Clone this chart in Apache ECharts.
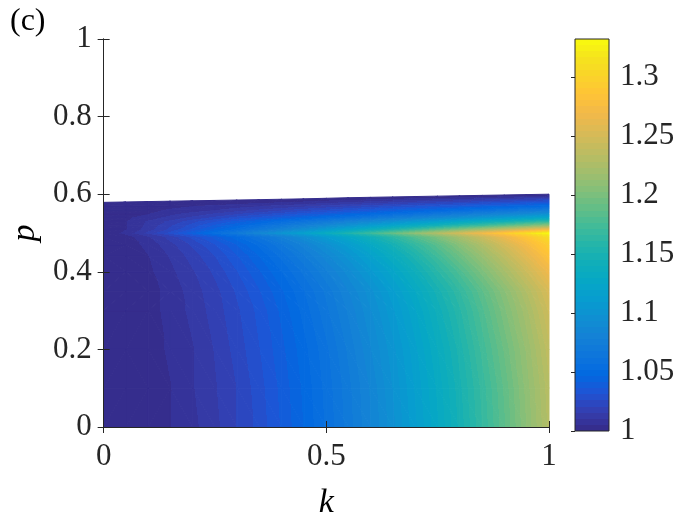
<!DOCTYPE html>
<html>
<head>
<meta charset="utf-8">
<script src="https://cdn.jsdelivr.net/npm/echarts@6/dist/echarts.min.js"></script>
<style>
html, body { margin: 0; background: #fff; }
#chart { width: 700px; height: 525px; }
</style>
</head>
<body>
<div id="chart"></div>
<script>
// grid nodes along k (columns)
const kGrid = [0, 0.05, 0.1, 0.15, 0.2, 0.25, 0.3, 0.35, 0.4, 0.45, 0.5,
  0.55, 0.6, 0.65, 0.7, 0.75, 0.8, 0.85, 0.9, 0.95, 1]
// p of each row of nodes, the last one is the upper edge of the filled region
const pRows = [0, 0.1, 0.2, 0.3, 0.35, 0.4, 0.44, 0.47, 0.49, 0.5,
  0.51, 0.52, 0.53, 0.54, 0.55, 0.56, 0.57]
const pEdge = [0.579, 0.580, 0.581, 0.582, 0.583, 0.584, 0.585, 0.586, 0.587, 0.588, 0.5895,
  0.591, 0.592, 0.593, 0.594, 0.595, 0.596, 0.597, 0.598, 0.599, 0.600]

// values, one array per row (k = 0 ... 1)
const vP000 = [1.000, 1.001, 1.002, 1.005, 1.009, 1.014, 1.021, 1.028, 1.037, 1.047, 1.058, 1.070, 1.083, 1.097, 1.113, 1.129, 1.147, 1.166, 1.186, 1.208, 1.230]
const vP010 = [1.000, 1.001, 1.002, 1.005, 1.010, 1.015, 1.021, 1.029, 1.038, 1.048, 1.059, 1.071, 1.084, 1.099, 1.115, 1.131, 1.149, 1.168, 1.188, 1.210, 1.232]
const vP020 = [1.000, 1.001, 1.003, 1.006, 1.010, 1.016, 1.023, 1.031, 1.040, 1.050, 1.061, 1.074, 1.088, 1.102, 1.118, 1.135, 1.153, 1.173, 1.193, 1.214, 1.237]
const vP030 = [1.000, 1.001, 1.003, 1.007, 1.012, 1.018, 1.025, 1.033, 1.043, 1.054, 1.066, 1.079, 1.093, 1.108, 1.124, 1.142, 1.160, 1.180, 1.201, 1.222, 1.245]
const vP035 = [1.000, 1.001, 1.003, 1.007, 1.013, 1.019, 1.027, 1.036, 1.046, 1.057, 1.069, 1.083, 1.097, 1.113, 1.130, 1.148, 1.166, 1.186, 1.207, 1.229, 1.252]
const vP040 = [1.000, 1.001, 1.004, 1.009, 1.015, 1.022, 1.031, 1.041, 1.052, 1.064, 1.077, 1.091, 1.107, 1.123, 1.141, 1.160, 1.179, 1.200, 1.222, 1.244, 1.268]
const vP044 = [1.000, 1.002, 1.005, 1.011, 1.018, 1.026, 1.036, 1.047, 1.059, 1.072, 1.086, 1.101, 1.118, 1.135, 1.153, 1.173, 1.193, 1.214, 1.236, 1.259, 1.283]
const vP047 = [1.000, 1.002, 1.007, 1.014, 1.022, 1.031, 1.042, 1.054, 1.067, 1.081, 1.096, 1.112, 1.129, 1.147, 1.166, 1.185, 1.206, 1.227, 1.249, 1.272, 1.295]
const vP049 = [1.000, 1.003, 1.010, 1.018, 1.028, 1.039, 1.051, 1.064, 1.078, 1.094, 1.110, 1.126, 1.144, 1.162, 1.182, 1.201, 1.222, 1.243, 1.265, 1.287, 1.310]
const vP050 = [1.000, 1.007, 1.017, 1.028, 1.041, 1.055, 1.069, 1.085, 1.101, 1.117, 1.134, 1.152, 1.170, 1.189, 1.208, 1.228, 1.248, 1.268, 1.289, 1.310, 1.331]
const vP051 = [1.000, 1.005, 1.013, 1.022, 1.032, 1.043, 1.054, 1.067, 1.079, 1.093, 1.107, 1.121, 1.136, 1.152, 1.167, 1.184, 1.200, 1.217, 1.234, 1.252, 1.270]
const vP052 = [1.000, 1.005, 1.012, 1.020, 1.028, 1.037, 1.046, 1.056, 1.066, 1.076, 1.087, 1.098, 1.109, 1.121, 1.133, 1.145, 1.158, 1.170, 1.183, 1.197, 1.210]
const vP053 = [1.000, 1.005, 1.011, 1.017, 1.024, 1.031, 1.038, 1.046, 1.054, 1.062, 1.070, 1.079, 1.088, 1.097, 1.106, 1.115, 1.125, 1.135, 1.145, 1.155, 1.165]
const vP054 = [1.000, 1.004, 1.008, 1.012, 1.017, 1.022, 1.028, 1.033, 1.039, 1.045, 1.052, 1.058, 1.065, 1.072, 1.079, 1.086, 1.094, 1.101, 1.109, 1.117, 1.125]
const vP055 = [1.000, 1.002, 1.005, 1.009, 1.012, 1.016, 1.020, 1.024, 1.028, 1.033, 1.037, 1.043, 1.048, 1.053, 1.058, 1.064, 1.070, 1.076, 1.082, 1.088, 1.095]
const vP056 = [1.000, 1.002, 1.003, 1.006, 1.008, 1.010, 1.013, 1.016, 1.019, 1.023, 1.026, 1.030, 1.034, 1.038, 1.042, 1.046, 1.051, 1.055, 1.060, 1.065, 1.070]
const vP057 = [1.000, 1.001, 1.002, 1.003, 1.005, 1.006, 1.008, 1.010, 1.012, 1.014, 1.017, 1.020, 1.023, 1.026, 1.029, 1.032, 1.035, 1.039, 1.042, 1.046, 1.050]
const vEdge = [1.000, 1.000, 1.000, 1.000, 1.000, 1.000, 1.000, 1.000, 1.000, 1.000, 1.000,
  1.000, 1.000, 1.000, 1.000, 1.000, 1.000, 1.000, 1.000, 1.000, 1.000]

// tick labels
const kTicks = [0, 0.5, 1]
const pTicks = [0, 0.2, 0.4, 0.6, 0.8, 1]
const cbarTicks = [1, 1.05, 1.1, 1.15, 1.2, 1.25, 1.3]
const cbarRange = [1, 1.332]

// parula colormap
const parula = ['#352a87', '#353dad', '#2053d4', '#0268e1', '#0d75dc', '#1481d6', '#108ed2',
  '#079ccf', '#06a7c6', '#0faeb9', '#25b5a9', '#42bb98', '#65be86', '#87bf77', '#a5be6b',
  '#c0bc60', '#d9ba56', '#f1b94a', '#ffc337', '#fad32a', '#f5e41d', '#f9fb0e']
const nLevels = 64
const levelColors = []
for (let n = 0; n < nLevels; n++) {
  levelColors.push(echarts.color.lerp((n + 0.5) / nLevels, parula))
}
const axisColor = '#262626'
const serif = '"Liberation Serif", "Times New Roman", serif'

const vRows = [vP000, vP010, vP020, vP030, vP035, vP040, vP044, vP047, vP049, vP050,
  vP051, vP052, vP053, vP054, vP055, vP056, vP057, vEdge]
const pNodes = pRows.map(p => kGrid.map(() => p)).concat([pEdge])

// split each cell into two triangles along the diagonal that follows the contours
const tris = []
for (let j = 0; j < vRows.length - 1; j++) {
  for (let i = 0; i < kGrid.length - 1; i++) {
    const bl = [kGrid[i], pNodes[j][i], vRows[j][i]]
    const br = [kGrid[i + 1], pNodes[j][i + 1], vRows[j][i + 1]]
    const tl = [kGrid[i], pNodes[j + 1][i], vRows[j + 1][i]]
    const tr = [kGrid[i + 1], pNodes[j + 1][i + 1], vRows[j + 1][i + 1]]
    if (Math.abs(bl[2] - tr[2]) <= Math.abs(br[2] - tl[2])) {
      tris.push(bl.concat(br, tr))
      tris.push(bl.concat(tr, tl))
    } else {
      tris.push(bl.concat(br, tl))
      tris.push(br.concat(tr, tl))
    }
  }
}

function bandOf (v) {
  const n = Math.floor((v - cbarRange[0]) / (cbarRange[1] - cbarRange[0]) * nLevels + 1e-9)
  return Math.min(nLevels - 1, Math.max(0, n))
}

// filled contour look: linear gradient across the triangle with hard steps at each level
function triFill (pts, vs) {
  const lo = Math.min(vs[0], vs[1], vs[2])
  const hi = Math.max(vs[0], vs[1], vs[2])
  const b0 = bandOf(lo)
  const b1 = bandOf(hi)
  if (b0 === b1) return levelColors[b0]
  const d1x = pts[1][0] - pts[0][0]
  const d1y = pts[1][1] - pts[0][1]
  const d2x = pts[2][0] - pts[0][0]
  const d2y = pts[2][1] - pts[0][1]
  const dv1 = vs[1] - vs[0]
  const dv2 = vs[2] - vs[0]
  const det = d1x * d2y - d1y * d2x
  if (Math.abs(det) < 1e-9) return levelColors[b0]
  const gx = (dv1 * d2y - dv2 * d1y) / det
  const gy = (d1x * dv2 - d2x * dv1) / det
  const g2 = gx * gx + gy * gy
  const ax = pts[0][0] + (lo - vs[0]) * gx / g2
  const ay = pts[0][1] + (lo - vs[0]) * gy / g2
  const bx = pts[0][0] + (hi - vs[0]) * gx / g2
  const by = pts[0][1] + (hi - vs[0]) * gy / g2
  const stops = [{ offset: 0, color: levelColors[b0] }]
  for (let b = b0 + 1; b <= b1; b++) {
    const lv = cbarRange[0] + b * (cbarRange[1] - cbarRange[0]) / nLevels
    const o = Math.min(1, Math.max(0, (lv - lo) / (hi - lo)))
    stops.push({ offset: o, color: levelColors[b - 1] }, { offset: o, color: levelColors[b] })
  }
  stops.push({ offset: 1, color: levelColors[b1] })
  return new echarts.graphic.LinearGradient(ax, ay, bx, by, stops, true)
}

function renderTri (params, api) {
  const pts = []
  const vs = []
  for (let n = 0; n < 3; n++) {
    pts.push(api.coord([api.value(n * 3), api.value(n * 3 + 1)]))
    vs.push(api.value(n * 3 + 2))
  }
  const fill = triFill(pts, vs)
  return {
    type: 'polygon',
    shape: { points: pts },
    // the stroke in the same paint hides the hairline seams between triangles
    style: { fill: fill, stroke: fill, lineWidth: 1, lineJoin: 'round' }
  }
}

function renderBar (params, api) {
  const p0 = api.coord([api.value(0), api.value(2)])
  const p1 = api.coord([api.value(1), api.value(3)])
  const stops = []
  for (let n = 0; n < nLevels; n++) {
    stops.push({ offset: n / nLevels, color: levelColors[n] })
    stops.push({ offset: (n + 1) / nLevels, color: levelColors[n] })
  }
  const rect = { x: p0[0], y: p1[1], width: p1[0] - p0[0], height: p0[1] - p1[1] }
  return {
    type: 'group',
    children: [{
      type: 'rect',
      shape: rect,
      style: { fill: new echarts.graphic.LinearGradient(0, 1, 0, 0, stops) }
    }, {
      type: 'rect',
      shape: rect,
      style: { fill: 'none', stroke: axisColor, lineWidth: 1 }
    }]
  }
}

const tickLabel = { color: axisColor, fontFamily: serif, fontSize: 31 }
const line = { show: true, lineStyle: { color: axisColor, width: 1 } }
const tick = { show: true, inside: true, length: 6, lineStyle: { color: axisColor } }

const chart = echarts.init(document.getElementById('chart'))
chart.setOption({
  animation: false,
  backgroundColor: '#fff',
  title: {
    text: '(c)',
    left: 5,
    top: 1,
    textStyle: { fontFamily: serif, fontSize: 32, fontWeight: 'normal', color: '#000' }
  },
  grid: [
    { left: 101, top: 39, width: 448, height: 392 },
    { left: 575, top: 39, width: 34, height: 392 }
  ],
  xAxis: [{
    type: 'value', gridIndex: 0, position: 'bottom', z: 10,
    min: kTicks[0], max: kTicks[kTicks.length - 1], interval: kTicks[1] - kTicks[0],
    name: 'k', nameLocation: 'middle', nameGap: 59,
    nameTextStyle: { fontFamily: serif, fontStyle: 'italic', fontSize: 34, color: '#000' },
    axisLine: line, axisTick: tick, splitLine: { show: false },
    axisLabel: Object.assign({ margin: 14 }, tickLabel)
  }, {
    type: 'value', gridIndex: 0, position: 'top', z: 10,
    min: kTicks[0], max: kTicks[kTicks.length - 1], interval: kTicks[1] - kTicks[0],
    axisLine: line, axisTick: tick, splitLine: { show: false }, axisLabel: { show: false }
  }, {
    type: 'value', gridIndex: 1, min: 0, max: 1, show: false
  }],
  yAxis: [{
    type: 'value', gridIndex: 0, position: 'left', z: 10,
    min: pTicks[0], max: pTicks[pTicks.length - 1], interval: pTicks[1] - pTicks[0],
    name: 'p', nameLocation: 'middle', nameGap: 61,
    nameTextStyle: { fontFamily: serif, fontStyle: 'italic', fontSize: 34, color: '#000' },
    axisLine: line, axisTick: tick, splitLine: { show: false },
    axisLabel: Object.assign({ margin: 12 }, tickLabel)
  }, {
    type: 'value', gridIndex: 0, position: 'right', z: 10,
    min: pTicks[0], max: pTicks[pTicks.length - 1], interval: pTicks[1] - pTicks[0],
    axisLine: line, axisTick: tick, splitLine: { show: false }, axisLabel: { show: false }
  }, {
    type: 'value', gridIndex: 1, position: 'right', z: 10,
    min: cbarTicks[0], max: cbarRange[1], interval: cbarTicks[1] - cbarTicks[0],
    axisLine: { show: false },
    axisTick: { show: true, inside: true, length: 4, lineStyle: { color: axisColor } },
    splitLine: { show: false },
    axisLabel: Object.assign({
      margin: 11,
      showMaxLabel: false,
      formatter: v => String(+v.toFixed(2))
    }, tickLabel)
  }],
  series: [{
    type: 'custom',
    xAxisIndex: 0,
    yAxisIndex: 0,
    silent: true,
    renderItem: renderTri,
    encode: { x: [0, 3, 6], y: [1, 4, 7] },
    data: tris
  }, {
    type: 'custom',
    xAxisIndex: 2,
    yAxisIndex: 2,
    silent: true,
    renderItem: renderBar,
    encode: { x: [0, 1], y: [2, 3] },
    data: [[0, 1, cbarRange[0], cbarRange[1]]]
  }]
})
</script>
</body>
</html>
